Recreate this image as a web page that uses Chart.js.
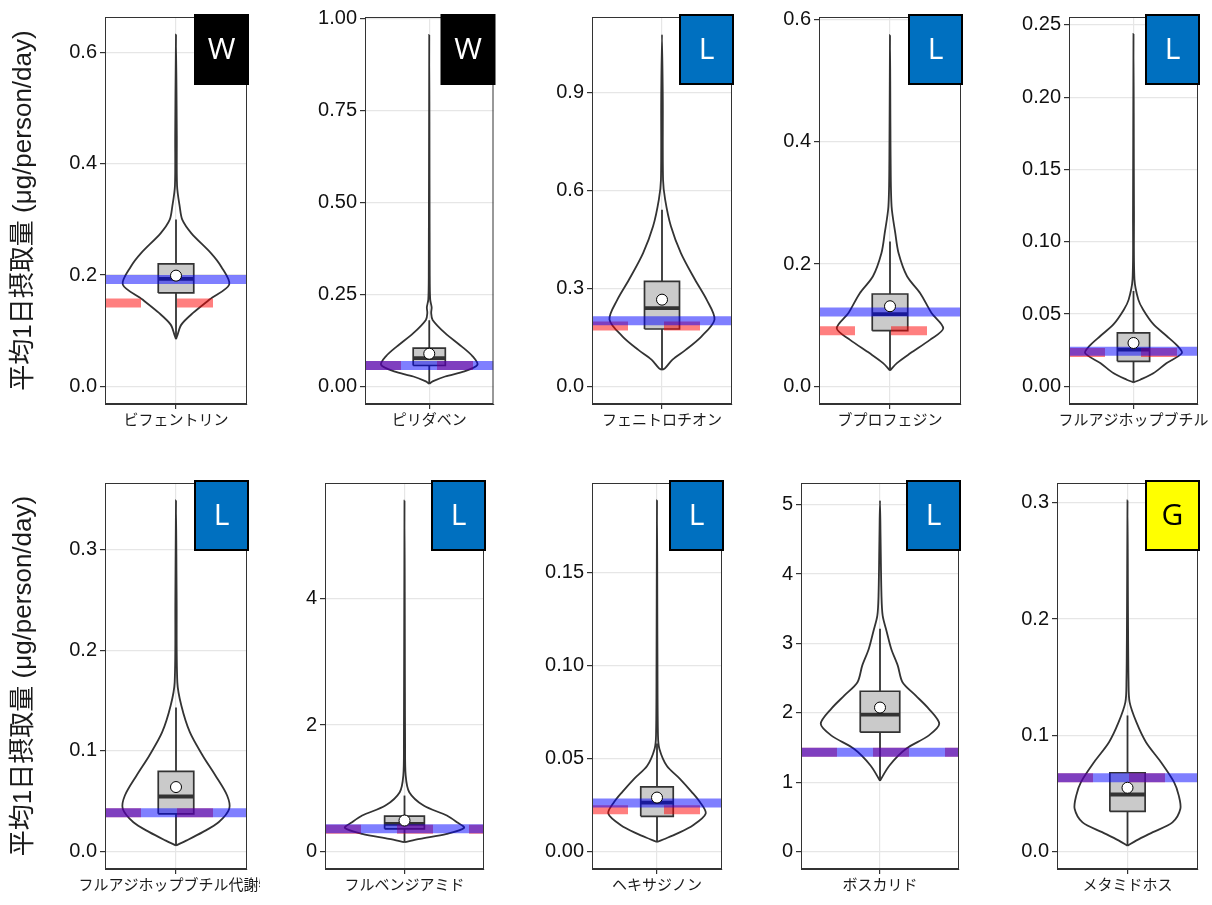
<!DOCTYPE html>
<html>
<head>
<meta charset="utf-8">
<script src="https://cdn.jsdelivr.net/npm/chart.js@4.4.1/dist/chart.umd.min.js"></script>
<style>
  body { margin: 0; background: #fff; }
  #wrap { position: relative; width: 1212px; height: 905px; overflow: hidden; }
  #wrap canvas { position: absolute; }
</style>
</head>
<body>
<div id="wrap"></div>
<script>
// Adatok
var names = ["ビフェントリン", "ピリダベン", "フェニトロチオン", "ブプロフェジン", "フルアジホップブチル",
             "フルアジホップブチル代謝物", "フルベンジアミド", "ヘキサジノン", "ボスカリド", "メタミドホス"];
var classes = ["W", "W", "L", "L", "L", "L", "L", "L", "L", "G"];
var yTitle = "平均1日摂取量 (μg/person/day)";

var yMin = [-0.0316, -0.0478, -0.054, -0.0288, -0.0122, -0.0174, -0.277, -0.0095, -0.253, -0.0151];
var yMax = [0.6636, 1.005, 1.133, 0.6038, 0.2555, 0.366, 5.83, 0.198, 5.313, 0.317];
var tickLabels = [
    ["0.0", "0.2", "0.4", "0.6"],
    ["0.00", "0.25", "0.50", "0.75", "1.00"],
    ["0.0", "0.3", "0.6", "0.9"],
    ["0.0", "0.2", "0.4", "0.6"],
    ["0.00", "0.05", "0.10", "0.15", "0.20", "0.25"],
    ["0.0", "0.1", "0.2", "0.3"],
    ["0", "2", "4"],
    ["0.00", "0.05", "0.10", "0.15"],
    ["0", "1", "2", "3", "4", "5"],
    ["0.0", "0.1", "0.2", "0.3"]
];

var q1 = [0.168, 0.057, 0.176, 0.091, 0.0173, 0.0374, 0.358, 0.0188, 1.72, 0.0344];
var medians = [0.193, 0.077, 0.240, 0.118, 0.0254, 0.0546, 0.437, 0.0262, 1.974, 0.049];
var q3 = [0.220, 0.104, 0.322, 0.151, 0.037, 0.0795, 0.559, 0.0346, 2.31, 0.0677];
var means = [0.199, 0.089, 0.266, 0.131, 0.030, 0.064, 0.49, 0.0289, 2.075, 0.0548];
var whiskerLo = [0.085, 0.007, 0.051, 0.026, 0.0028, 0.006, 0.148, 0.005, 1.02, 0.005];
var whiskerHi = [0.30, 0.18, 0.542, 0.237, 0.066, 0.143, 0.885, 0.058, 3.21, 0.117];
var blueLines = [0.192, 0.057, 0.201, 0.1215, 0.0243, 0.0384, 0.36, 0.026, 1.432, 0.0634];
var redLines = [0.150, 0.057, 0.185, 0.091, 0.0235, 0.0384, 0.35, 0.0224, 1.43, 0.0634];

// violin: [ertek, relativ felszelesseg]
var violins = [
    [[0.085,0],[0.09,0.02],[0.111,0.10],[0.132,0.32],[0.156,0.63],[0.183,1.0],[0.215,0.85],[0.239,0.66],[0.275,0.29],[0.299,0.12],[0.323,0.07],[0.36,0.02],[0.45,0.015],[0.632,0]],
    [[0.007,0],[0.0136,0.07],[0.027,0.33],[0.041,0.73],[0.059,1.0],[0.082,0.9],[0.109,0.67],[0.145,0.33],[0.181,0.07],[0.20,0.04],[0.215,0.05],[0.236,0.02],[0.30,0.01],[0.956,0]],
    [[0.051,0],[0.056,0.06],[0.082,0.2],[0.112,0.45],[0.153,0.75],[0.205,1.0],[0.266,0.85],[0.327,0.63],[0.409,0.36],[0.491,0.17],[0.573,0.06],[0.634,0.02],[0.88,0.015],[1.079,0]],
    [[0.026,0],[0.038,0.13],[0.054,0.38],[0.076,0.75],[0.095,1.0],[0.12,0.78],[0.152,0.57],[0.18,0.32],[0.218,0.16],[0.25,0.1],[0.294,0.03],[0.37,0.012],[0.574,0]],
    [[0.0028,0],[0.0046,0.14],[0.009,0.41],[0.016,0.68],[0.023,1.0],[0.028,0.91],[0.035,0.68],[0.043,0.41],[0.053,0.2],[0.060,0.1],[0.074,0.02],[0.12,0.01],[0.2438,0]],
    [[0.006,0],[0.011,0.2],[0.0192,0.5],[0.029,0.8],[0.0424,1.0],[0.0556,0.96],[0.0755,0.74],[0.0954,0.5],[0.1185,0.26],[0.145,0.1],[0.168,0.025],[0.25,0.012],[0.3487,0]],
    [[0.148,0],[0.2,0.26],[0.279,0.71],[0.374,1.0],[0.464,0.88],[0.569,0.71],[0.727,0.32],[0.938,0.08],[1.2,0.02],[1.7,0.01],[5.55,0]],
    [[0.005,0],[0.0065,0.14],[0.0095,0.41],[0.014,0.74],[0.0203,1.0],[0.0265,0.88],[0.032,0.71],[0.039,0.47],[0.046,0.2],[0.055,0.05],[0.0624,0.02],[0.1,0.01],[0.1887,0]],
    [[1.02,0],[1.24,0.16],[1.48,0.44],[1.67,0.82],[1.84,1.0],[2.06,0.82],[2.25,0.6],[2.44,0.38],[2.68,0.3],[2.92,0.19],[3.18,0.11],[3.4,0.045],[3.69,0.025],[4.5,0.01],[5.06,0]],
    [[0.005,0],[0.0095,0.17],[0.0166,0.48],[0.025,0.85],[0.0367,1.0],[0.048,0.97],[0.0597,0.88],[0.077,0.63],[0.094,0.35],[0.111,0.17],[0.1285,0.04],[0.1457,0.02],[0.2,0.01],[0.302,0]]
];

// Elrendezes
var colLeft = [0, 260, 500, 740, 980, 0, 260, 500, 740, 980];
var colRight = [260, 500, 740, 980, 1212, 260, 500, 740, 980, 1212];
var plotLeft = [105, 365, 592, 819, 1069, 105, 325, 592, 801, 1057];
var plotRight = [247, 497, 732, 961, 1198, 247, 484, 722, 959, 1198];
var rowTop = [0, 450], rowHeight = [450, 455], plotTop = [17, 483], plotBottom = [404, 869];
var labelColors = { W: ["#000000", "#ffffff"], L: ["#0070C0", "#ffffff"], G: ["#FFFF00", "#000000"] };

var FONT = '"Liberation Sans", "Noto Sans CJK JP", sans-serif';

var panelFrame = {
    id: "panelFrame",
    afterDraw: function (chart) {
        var a = chart.chartArea, ctx = chart.ctx;
        var cls = chart.options.plugins.panelFrame.cls;
        ctx.save();
        ctx.strokeStyle = "#333333";
        ctx.lineWidth = 1;
        ctx.strokeRect(a.left + 0.5, a.top + 0.5, a.right - a.left - 1, a.bottom - a.top - 1);
        var c = labelColors[cls];
        var bx = a.right - 52, by = a.top - 2, bw = 53, bh = 69;
        ctx.fillStyle = c[0];
        ctx.fillRect(bx, by, bw, bh);
        ctx.lineWidth = 2;
        ctx.strokeStyle = "#000";
        ctx.strokeRect(bx, by, bw, bh);
        ctx.fillStyle = c[1];
        ctx.font = '30px "Open Sans", "Noto Sans", sans-serif';
        ctx.textAlign = "center";
        ctx.textBaseline = "middle";
        ctx.fillText(cls, bx + bw / 2, by + bh / 2 + 1);
        ctx.restore();
    }
};

function violinPoints(prof) {
    var pts = [];
    for (var i = 0; i < prof.length; i++) pts.push({ x: prof[i][1] * 0.45, y: prof[i][0] });
    for (var j = prof.length - 2; j >= 0; j--) pts.push({ x: -prof[j][1] * 0.45, y: prof[j][0] });
    return pts;
}

function lineSet(data, color, width, order, extra) {
    var ds = { data: data, showLine: true, pointRadius: 0, borderColor: color, borderWidth: width,
               fill: false, tension: 0, order: order };
    for (var k in extra) ds[k] = extra[k];
    return ds;
}

function makePanel(i) {
    var row = i < 5 ? 0 : 1;
    var w = colRight[i] - colLeft[i], h = rowHeight[row];
    var canvas = document.createElement("canvas");
    canvas.width = w; canvas.height = h;
    canvas.style.left = colLeft[i] + "px";
    canvas.style.top = rowTop[row] + "px";
    canvas.style.width = w + "px"; canvas.style.height = h + "px";
    document.getElementById("wrap").appendChild(canvas);

    var yw = plotLeft[i] - colLeft[i];
    var xh = rowTop[row] + h - plotBottom[row];
    var labels = tickLabels[i];
    var bw = 0.15;

    var datasets = [
        lineSet(violinPoints(violins[i]), "#333333", 1.8, 7, { tension: 0.3 }),
        lineSet([{ x: 0, y: whiskerLo[i] }, { x: 0, y: whiskerHi[i] }], "#333333", 1.8, 6),
        lineSet([{ x: -bw, y: q3[i] }, { x: bw, y: q3[i] }], "rgba(0,0,0,0)", 0, 5,
                { fill: { value: q1[i] }, backgroundColor: "#cacaca" }),
        lineSet([{ x: -bw, y: q1[i] }, { x: -bw, y: q3[i] }, { x: bw, y: q3[i] }, { x: bw, y: q1[i] }, { x: -bw, y: q1[i] }],
                "#333333", 1.7, 4),
        lineSet([{ x: -bw, y: medians[i] }, { x: bw, y: medians[i] }], "#333333", 3.8, 3),
        lineSet([{ x: -0.6, y: redLines[i] }, { x: 0.6, y: redLines[i] }], "rgba(255,0,0,0.5)", 9, 2,
                { borderDash: [36, 36], borderCapStyle: "butt" }),
        lineSet([{ x: -0.6, y: blueLines[i] }, { x: 0.6, y: blueLines[i] }], "rgba(0,0,255,0.5)", 9, 1,
                { borderCapStyle: "butt" }),
        { data: [{ x: 0, y: means[i] }], showLine: false, pointRadius: 5.5, pointBackgroundColor: "#ffffff",
          pointBorderColor: "#000000", pointBorderWidth: 1, order: 0 }
    ];

    new Chart(canvas.getContext("2d"), {
        type: "scatter",
        data: { datasets: datasets },
        plugins: [panelFrame],
        options: {
            responsive: false,
            animation: false,
            events: [],
            layout: { padding: { left: 0, right: colRight[i] - plotRight[i], top: plotTop[row] - rowTop[row], bottom: 0 } },
            plugins: {
                legend: { display: false },
                tooltip: { enabled: false },
                panelFrame: { cls: classes[i] }
            },
            scales: {
                x: {
                    type: "linear", min: -0.6, max: 0.6,
                    afterBuildTicks: function (axis) { axis.ticks = [{ value: 0 }]; },
                    afterFit: function (axis) { axis.height = xh; axis.paddingLeft = 0; axis.paddingRight = 0; },
                    ticks: { callback: function () { return names[i]; }, font: { family: FONT, size: 15 },
                             color: "#1a1a1a", padding: 3, maxRotation: 0, autoSkip: false },
                    grid: { color: "#e6e6e6", lineWidth: 1.2, tickColor: "#333333", tickLength: 5 },
                    border: { color: "#333333", width: 1 }
                },
                y: {
                    type: "linear", min: yMin[i], max: yMax[i],
                    afterBuildTicks: function (axis) {
                        axis.ticks = labels.map(function (s) { return { value: parseFloat(s) }; });
                    },
                    afterFit: function (axis) { axis.width = yw; axis.paddingTop = 0; axis.paddingBottom = 0; },
                    ticks: { callback: function (v, idx) { return labels[idx]; }, font: { family: FONT, size: 20 },
                             color: "#111111", padding: 3 },
                    grid: { color: "#e6e6e6", lineWidth: 1.2, tickColor: "#333333", tickLength: 5 },
                    border: { color: "#333333", width: 1 },
                    title: { display: i === 0 || i === 5, text: yTitle, color: "#1a1a1a",
                             font: { family: FONT, size: 26 }, padding: { top: 8, bottom: 0 } }
                }
            }
        }
    });
}

for (var n = 0; n < names.length; n++) makePanel(n);
</script>
</body>
</html>
